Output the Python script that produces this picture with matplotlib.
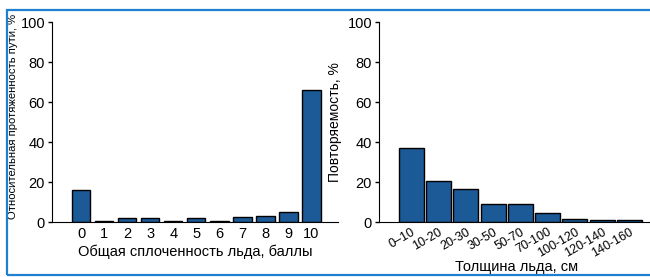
import matplotlib
matplotlib.use("Agg")
import matplotlib.pyplot as plt
from matplotlib.patches import Rectangle

# left chart: total ice concentration, points
conc_labels = ["0", "1", "2", "3", "4", "5", "6", "7", "8", "9", "10"]
conc_values = [16, 0.5, 1.8, 1.8, 0.3, 2.0, 0.3, 2.7, 3.0, 5.0, 66]

# right chart: ice thickness, cm
thick_labels = ["0–10", "10-20", "20-30", "30-50", "50-70", "70-100",
                "100-120", "120-140", "140-160"]
thick_values = [37, 20.5, 16.5, 9, 9, 4.5, 1.5, 1.0, 0.8]

bar_color = "#1b5a97"
frame_color = "#1f7fd0"

plt.rcParams["font.family"] = ["Liberation Sans", "DejaVu Sans"]

fig = plt.figure(figsize=(6.5, 2.77), dpi=100)

# blue frame around the picture
fig.patches.append(Rectangle((7 / 650, 2 / 277), 660 / 650, 265 / 277,
                             transform=fig.transFigure, fill=False,
                             edgecolor=frame_color, linewidth=1.6))

ax1 = fig.add_axes([52 / 650, 1 - 222 / 277, 286 / 650, 200 / 277])
ax2 = fig.add_axes([379 / 650, 1 - 222 / 277, 275 / 650, 200 / 277])

for ax in (ax1, ax2):
    ax.spines["top"].set_visible(False)
    ax.spines["right"].set_visible(False)
    ax.set_ylim(0, 100)
    ax.set_yticks([0, 20, 40, 60, 80, 100])
    ax.tick_params(axis="y", length=3, width=1, labelsize=10.5, pad=2)
    ax.tick_params(axis="x", length=0, labelsize=10.5)
    ax.patch.set_alpha(0)

x1 = range(len(conc_values))
ax1.bar(x1, conc_values, width=0.8, color=bar_color, edgecolor="black",
        linewidth=1)
ax1.set_xlim(-1.26, 11.15)
ax1.set_xticks(list(x1))
ax1.set_xticklabels(conc_labels)
ax1.set_xlabel("Общая сплоченность льда, баллы", fontsize=10.5, labelpad=3)
ax1.set_ylabel("Относительная протяженность пути, %", fontsize=8.1,
               labelpad=2, y=0.53)

x2 = range(len(thick_values))
ax2.bar(x2, thick_values, width=0.92, color=bar_color, edgecolor="black",
        linewidth=1)
ax2.set_xlim(-1.19, 8.9)
ax2.set_xticks(list(x2))
ax2.set_xticklabels(thick_labels, rotation=30, ha="right",
                    rotation_mode="anchor", fontsize=9)
ax2.tick_params(axis="x", pad=3)
ax2.set_xlabel("Толщина льда, см", fontsize=10.5, labelpad=0)
ax2.set_ylabel("Повторяемость, %", fontsize=10, labelpad=4)

fig.savefig("out.png", dpi=100)
